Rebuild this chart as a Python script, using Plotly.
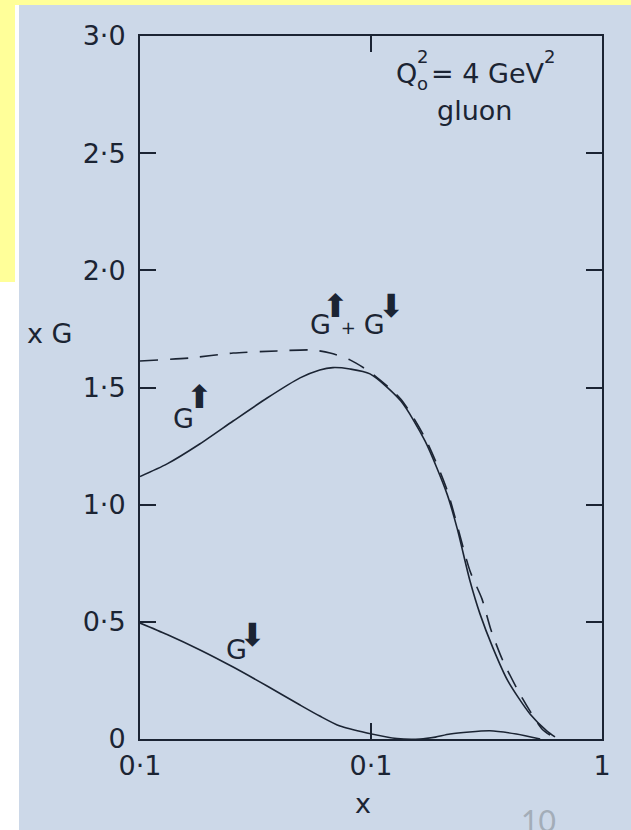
import plotly.graph_objects as go

# ---------------- data ----------------
x_up = [0.01, 0.0131, 0.0182, 0.0253, 0.0355, 0.0493, 0.060, 0.0684, 0.0811, 0.099, 0.1344, 0.1713,
        0.2133, 0.2357, 0.2683, 0.2963, 0.3374, 0.3918, 0.4879, 0.578, 0.626]
g_up = [1.12, 1.174, 1.26, 1.357, 1.455, 1.541, 1.575, 1.585, 1.579, 1.558, 1.443, 1.272,
        1.046, 0.901, 0.674, 0.534, 0.388, 0.247, 0.107, 0.034, 0.009]

x_sum = [0.01, 0.0164, 0.0253, 0.0392, 0.0561, 0.0665, 0.0811, 0.099, 0.1344, 0.1713, 0.2133,
         0.2683, 0.3022, 0.3308, 0.3727, 0.4461, 0.5497, 0.596]
g_sum = [1.613, 1.626, 1.647, 1.656, 1.660, 1.647, 1.618, 1.566, 1.451, 1.285, 1.063,
         0.717, 0.598, 0.465, 0.333, 0.184, 0.043, 0.017]

x_dn = [0.01, 0.0131, 0.0182, 0.0253, 0.0355, 0.0493, 0.060, 0.0734, 0.096, 0.1296, 0.163,
        0.19, 0.22, 0.327, 0.426, 0.54]
g_dn = [0.495, 0.446, 0.380, 0.307, 0.226, 0.145, 0.098, 0.055, 0.026, 0.002, 0.0,
        0.008, 0.021, 0.035, 0.021, 0.0]

x_tickvals = [0.01, 0.1, 1]
x_ticktext = ["0·1", "0·1", "1"]
y_tickvals = [0, 0.5, 1.0, 1.5, 2.0, 2.5, 3.0]
y_ticktext = ["0", "0·5", "1·0", "1·5", "2·0", "2·5", "3·0"]

# ---------------- style ----------------
W, H = 631, 830
L, R, T, B = 140, 602, 36, 739
INK = "#1b2433"
BG = "#ccd8e8"
YEL = "#ffff99"
FONT = "DejaVu Sans"
FS = 27


def px(xp, yp):
    return (xp - L) / (R - L), (B - yp) / (B - T)


fig = go.Figure()
line_kw = dict(color=INK, width=1.6, shape="spline", smoothing=0.7)
fig.add_trace(go.Scatter(x=x_sum, y=g_sum, mode="lines", name="G↑+G↓",
                         line=dict(line_kw, dash="18px,12px")))
fig.add_trace(go.Scatter(x=x_up, y=g_up, mode="lines", name="G↑", line=line_kw))
fig.add_trace(go.Scatter(x=x_dn, y=g_dn, mode="lines", name="G↓", line=line_kw))

ann = []


def add_text(text, xp, yp, size=FS, xanchor="center", color=INK, family=FONT):
    x, y = px(xp, yp)
    ann.append(dict(text=text, x=x, y=y, xref="paper", yref="paper", showarrow=False,
                    xanchor=xanchor, yanchor="middle",
                    font=dict(family=family, size=size, color=color)))


def g_(ls):
    return "<span style='font-size:27px;letter-spacing:%dpx'>G</span>" % ls


def arrow(ch, ls=0):
    return "<sup><span style='font-size:32px;letter-spacing:%dpx'>%s</span></sup>" % (ls, ch)


# Q_o^2 = 4 GeV^2 / gluon
add_text("Q", 406, 73)
add_text("2", 422, 56, size=18)
add_text("o", 422, 84, size=18)
add_text("= 4 GeV", 429, 73, xanchor="left")
add_text("2", 549, 56, size=18)
add_text("gluon", 474, 110)

# curve labels
add_text(g_(-8) + arrow("⬆"), 171, 406, size=48, xanchor="left")
add_text(g_(-9) + arrow("⬆", -8)
         + "<span style='font-size:18px;letter-spacing:8px'>+</span>"
         + g_(-7) + arrow("⬇"), 308, 313, size=40, xanchor="left")
add_text(g_(-8) + arrow("⬇"), 224, 640, size=32, xanchor="left")

# axis titles
add_text("x G", 25, 333, xanchor="left")
add_text("x", 363, 803)

# slide number
add_text("10", 538, 820, size=30, color="#a3adb8", family="Lato")


# background pieces (yellow and white strips)
def rect(x0, y0, x1, y1, color):
    a0, b0 = px(x0, y1)
    a1, b1 = px(x1, y0)
    return dict(type="rect", xref="paper", yref="paper", x0=a0, x1=a1, y0=b0, y1=b1,
                fillcolor=color, line=dict(width=0), layer="below")


shapes = [
    rect(0, 0, W, 5, YEL),
    rect(0, 0, 15, 282, YEL),
    rect(15, 5, 19, H, "white"),
    rect(0, 282, 19, H, "white"),
]

fig.update_layout(
    width=W, height=H,
    margin=dict(l=L, r=W - R, t=T, b=H - B, pad=0),
    paper_bgcolor=BG, plot_bgcolor=BG,
    showlegend=False,
    annotations=ann,
    shapes=shapes,
    font=dict(family=FONT, size=FS, color=INK),
)
fig.update_xaxes(
    type="log", range=[-2, 0],
    tickvals=x_tickvals, ticktext=x_ticktext,
    showgrid=False, zeroline=False,
    showline=True, linecolor=INK, linewidth=2, mirror="ticks",
    ticks="inside", ticklen=16, tickwidth=1.5, tickcolor=INK,
    tickfont=dict(family=FONT, size=FS, color=INK),
    ticklabelstandoff=2,
)
fig.update_yaxes(
    range=[0, 3.0],
    tickvals=y_tickvals, ticktext=y_ticktext,
    showgrid=False, zeroline=False,
    showline=True, linecolor=INK, linewidth=2, mirror="ticks",
    ticks="inside", ticklen=16, tickwidth=1.5, tickcolor=INK,
    tickfont=dict(family=FONT, size=FS, color=INK),
    ticklabelstandoff=7,
)

fig.write_html(
    "out.html",
    config={"displayModeBar": False},
    post_script="document.body.style.margin='0px';document.body.style.padding='0px';"
                "document.documentElement.style.margin='0px';",
)
